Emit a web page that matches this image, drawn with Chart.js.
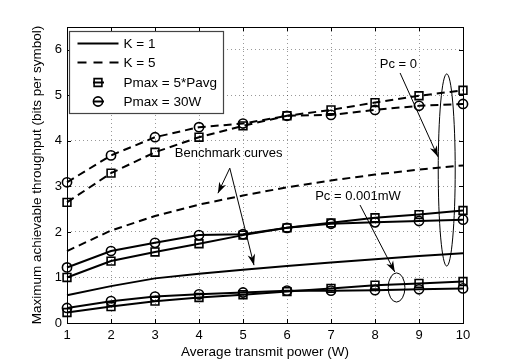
<!DOCTYPE html>
<html><head><meta charset="utf-8">
<script src="https://cdn.jsdelivr.net/npm/chart.js@4.4.0/dist/chart.umd.min.js"></script>
<style>html,body{margin:0;padding:0;background:#fff;}canvas{display:block;}</style>
</head><body>
<canvas id="c" width="512" height="363"></canvas>
<script>
// ---- data ----
const power = [1,2,3,4,5,6,7,8,9,10];
const k5_pavg_pc0 = [2.65,3.29,3.75,4.08,4.33,4.55,4.68,4.84,4.99,5.11];
const k5_30w_pc0  = [3.09,3.68,4.08,4.30,4.38,4.55,4.57,4.68,4.77,4.81];
const k5_bench    = [1.58,2.03,2.35,2.60,2.80,2.98,3.13,3.26,3.37,3.46];
const k1_pavg_pc0 = [1.00,1.36,1.56,1.74,1.93,2.09,2.20,2.31,2.38,2.47];
const k1_30w_pc0  = [1.22,1.58,1.76,1.93,1.95,2.09,2.18,2.21,2.24,2.27];
const k1_bench    = [0.61,0.81,0.98,1.08,1.17,1.25,1.33,1.40,1.47,1.53];
const k1_pavg_pc1 = [0.23,0.36,0.48,0.56,0.62,0.69,0.76,0.83,0.87,0.91];
const k1_30w_pc1  = [0.33,0.48,0.58,0.63,0.67,0.71,0.71,0.72,0.74,0.76];
const xTicks = [1,2,3,4,5,6,7,8,9,10];
const yTicks = [0,1,2,3,4,5,6];
const legendLabels = ['K = 1','K = 5','Pmax = 5*Pavg','Pmax = 30W'];
const xTitle = 'Average transmit power (W)';
const yTitle = 'Maximum achievable throughput (bits per symbol)';
const noteBench = 'Benchmark curves';
const notePc0 = 'Pc = 0';
const notePc1 = 'Pc = 0.001mW';

// ---- styles ----
const FONT = '"Liberation Sans", Arial, Helvetica, sans-serif';
const DASH = [8,5];
const LW = 2;

function pts(ys){ return power.map((p,i)=>({x:p,y:ys[i]})); }
function ds(ys, dashed, marker){
  return {
    data: pts(ys), borderColor:'#000', borderWidth:LW, borderDash: dashed?DASH:[],
    pointStyle: marker || 'circle', pointRadius: marker ? (marker==='rect'?5.5:4.6) : 0,
    pointBorderWidth:1.6, pointBorderColor:'#000', pointBackgroundColor:'rgba(0,0,0,0)',
    pointHoverRadius:0, fill:false, tension:0, clip:false
  };
}

// annotation geometry (data coordinates)
const ann = {
  bench: {text:[3.45,3.73], from:[4.70,3.40], tips:[[4.43,2.85],[5.25,1.27]]},
  pc0:   {text:[8.11,5.67], from:[8.57,5.49], tips:[[9.43,3.65]], ell:[9.63,3.36,0.193,2.11]},
  pc1:   {text:[6.64,2.77], from:[7.66,2.59], tips:[[8.45,1.12]], ell:[8.49,0.78,0.19,0.32]}
};

function arrow(ctx,x0,y0,x1,y1){
  ctx.beginPath(); ctx.moveTo(x0,y0); ctx.lineTo(x1,y1); ctx.stroke();
  const a=Math.atan2(y1-y0,x1-x0), L=11, W=3.8;
  const bx=x1-L*Math.cos(a), by=y1-L*Math.sin(a);
  ctx.beginPath(); ctx.moveTo(x1,y1);
  ctx.lineTo(bx+W*Math.sin(a), by-W*Math.cos(a));
  ctx.lineTo(x1-0.7*L*Math.cos(a), y1-0.7*L*Math.sin(a));
  ctx.lineTo(bx-W*Math.sin(a), by+W*Math.cos(a));
  ctx.closePath(); ctx.fill();
}

const framePlugin = {
  id:'frame',
  beforeDatasetsDraw(chart){
    const {ctx, chartArea:a, scales:{x,y}} = chart;
    ctx.save(); ctx.strokeStyle='#000'; ctx.lineWidth=1;
    ctx.beginPath();
    xTicks.forEach(v=>{const p=Math.round(x.getPixelForValue(v))+0.5;
      ctx.moveTo(p,a.bottom); ctx.lineTo(p,a.bottom-4); ctx.moveTo(p,a.top); ctx.lineTo(p,a.top+4);});
    yTicks.forEach(v=>{const p=Math.round(y.getPixelForValue(v))+0.5;
      ctx.moveTo(a.left,p); ctx.lineTo(a.left+4,p); ctx.moveTo(a.right,p); ctx.lineTo(a.right-4,p);});
    ctx.stroke();
    ctx.strokeRect(Math.round(a.left)+0.5, Math.round(a.top)+0.5, Math.round(a.right-a.left), Math.round(a.bottom-a.top));
    ctx.restore();
  },
  afterDatasetsDraw(chart){
    const {ctx, chartArea:a, scales:{x,y}} = chart;
    const X=v=>x.getPixelForValue(v), Y=v=>y.getPixelForValue(v);
    ctx.save();
    // annotations
    ctx.fillStyle='#000'; ctx.strokeStyle='#000'; ctx.lineWidth=1;
    ctx.font='13px '+FONT; ctx.textBaseline='middle'; ctx.textAlign='left';
    const notes=[[ann.bench,noteBench],[ann.pc0,notePc0],[ann.pc1,notePc1]];
    notes.forEach(([n,t])=>{
      ctx.fillText(t, X(n.text[0]), Y(n.text[1]));
      n.tips.forEach(tp=>arrow(ctx,X(n.from[0]),Y(n.from[1]),X(tp[0]),Y(tp[1])));
      if(n.ell){
        const [cx,cy,rx,ry]=n.ell;
        ctx.beginPath();
        ctx.ellipse(X(cx),Y(cy),Math.abs(X(cx+rx)-X(cx)),Math.abs(Y(cy+ry)-Y(cy)),0,0,Math.PI*2);
        ctx.stroke();
      }
    });
    // legend
    const bx=Math.round(a.left)+2.5, by=Math.round(a.top)+4.5, bw=154, bh=82;
    ctx.fillStyle='#fff'; ctx.fillRect(bx,by,bw,bh);
    ctx.strokeStyle='#444'; ctx.lineWidth=1.2; ctx.strokeRect(bx,by,bw,bh);
    const rows=[12,31,51,70];
    ctx.strokeStyle='#000'; ctx.fillStyle='#000'; ctx.font='13.5px '+FONT;
    rows.forEach((ry,i)=>{
      const yy=by+ry, x0=bx+8, x1=bx+49, mx=(x0+x1)/2;
      ctx.lineWidth=LW;
      if(i<2){
        ctx.setLineDash(i===1?[9,7]:[]);
        ctx.beginPath(); ctx.moveTo(x0,yy); ctx.lineTo(x1,yy); ctx.stroke();
        ctx.setLineDash([]);
      } else {
        ctx.beginPath(); ctx.moveTo(mx-5,yy); ctx.lineTo(mx+6,yy); ctx.stroke();
        ctx.lineWidth=1.6;
        ctx.beginPath();
        if(i===2) ctx.rect(mx-3.9,yy-3.9,7.8,7.8); else ctx.arc(mx,yy,4.6,0,Math.PI*2);
        ctx.stroke();
      }
      ctx.fillText(legendLabels[i], bx+54, yy+0.5);
    });
    ctx.restore();
  }
};

Chart.defaults.font.family = FONT;
Chart.defaults.color = '#000';

new Chart(document.getElementById('c'), {
  type:'line',
  data:{ datasets:[
    ds(k5_pavg_pc0,true,'rect'),
    ds(k5_30w_pc0,true,'circle'),
    ds(k5_bench,true,null),
    ds(k1_pavg_pc0,false,'rect'),
    ds(k1_30w_pc0,false,'circle'),
    ds(k1_bench,false,null),
    ds(k1_pavg_pc1,false,'rect'),
    ds(k1_30w_pc1,false,'circle')
  ]},
  options:{
    responsive:false, animation:false, devicePixelRatio:1,
    layout:{padding:{top:27,right:49,left:0,bottom:0}},
    plugins:{legend:{display:false}, tooltip:{enabled:false}},
    events:[],
    scales:{
      x:{type:'linear', min:1, max:10,
        afterBuildTicks:s=>{s.ticks=xTicks.map(v=>({value:v}));},
        afterFit:s=>{s.height=40;},
        ticks:{font:{size:13}, padding:5, maxRotation:0, autoSkip:false},
        grid:{color:'rgba(0,0,0,0.4)', lineWidth:1, drawTicks:false},
        border:{display:false, dash:[1,3]},
        title:{display:true, text:xTitle, font:{size:13.5}, padding:{top:0,bottom:3}}
      },
      y:{type:'linear', min:0, max:6.5,
        afterBuildTicks:s=>{s.ticks=yTicks.map(v=>({value:v}));},
        afterFit:s=>{s.width=67;},
        ticks:{font:{size:13}, padding:5},
        grid:{color:'rgba(0,0,0,0.4)', lineWidth:1, drawTicks:false},
        border:{display:false, dash:[1,3]},
        title:{display:true, text:yTitle, font:{size:13.5}, padding:{top:29,bottom:0}}
      }
    }
  },
  plugins:[framePlugin]
});
</script>
</body></html>
